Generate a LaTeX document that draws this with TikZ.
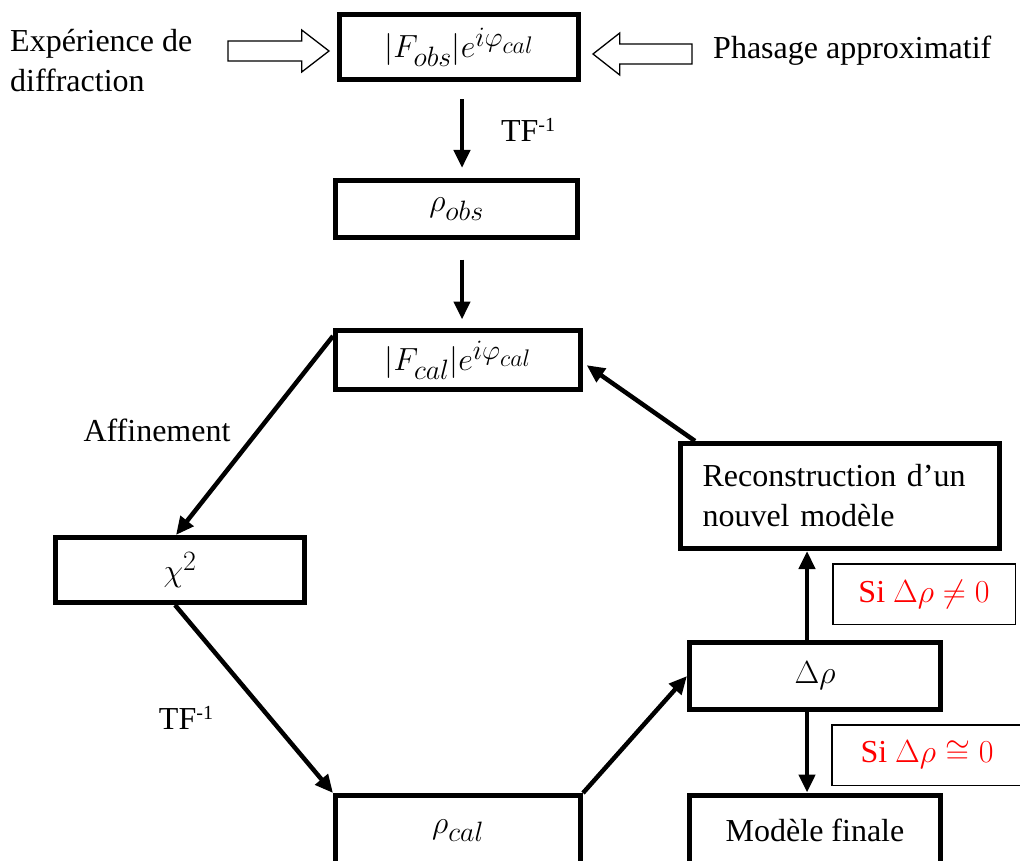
\RequirePackage{fix-cm}
\documentclass[tikz,border=0pt]{standalone}
\usepackage{fontspec}
\setmainfont{Liberation Serif}
\usepackage{amsmath}
\DeclareMathSizes{32}{32}{28}{24}
\usetikzlibrary{arrows.meta, calc}
\tikzset{
	bigbox/.style ={rectangle, draw=black, line width=5pt, fill=white, inner sep=0pt, align=center},
	condbox/.style={rectangle, draw=black, line width=1.5pt, fill=white, inner sep=0pt, text=red},
	lbl/.style    ={inner sep=0pt},
	flow/.style   ={-{Triangle[length=18pt, width=16pt]}, line width=4.5pt},
	hollow/.style ={draw=black, line width=1.3pt, fill=white, line join=miter},
}
% small raised exponent of TF
\newcommand{\inv}{\raisebox{10pt}{\fontsize{20}{20}\selectfont -1}}
% hollow input arrow: tail x, tip x, centre y
\newcommand{\fatArrow}[3]{%
	\draw[hollow] (#1,{#3-10}) -- ({#2+0.27*(#1-#2)},{#3-10}) -- ({#2+0.27*(#1-#2)},{#3-21})
		-- (#2,#3) -- ({#2+0.27*(#1-#2)},{#3+21}) -- ({#2+0.27*(#1-#2)},{#3+10}) -- (#1,{#3+10}) -- cycle;}

\begin{document}
\begin{tikzpicture}[x=1pt, y=-1pt, font=\fontsize{32}{40}\selectfont]
	\useasboundingbox (0,0) rectangle (1020,861);
	\coordinate (col) at (462,0);
	\coordinate (axis) at (807,0);
	% main boxes
	\node[bigbox, minimum width=239pt, minimum height=65pt] (fobs) at (459,47) {$|F_{obs}|e^{i\varphi_{cal}}$};
	\node[bigbox, minimum width=242pt, minimum height=57pt] (robs) at (456.5,209) {$\rho_{obs}$};
	\node[bigbox, minimum width=245pt, minimum height=59pt] (fcal) at (458,360) {$|F_{cal}|e^{i\varphi_{cal}}$};
	\node[bigbox, minimum width=249pt, minimum height=65pt] (chi) at (180,570) {$\chi^{2}$};
	\node[bigbox, minimum width=245pt, minimum height=70pt] (rcal) at (458,830.5) {$\rho_{cal}$};
	\node[bigbox, minimum width=251pt, minimum height=67pt] (drho) at (815,676) {$\Delta\rho$};
	\node[bigbox, text width=275pt, inner xsep=22pt, minimum height=105pt, align=left] (recon) at (840,496) {Reconstruction d’un\\nouvel modèle};
	\node[bigbox, minimum width=251pt, minimum height=70pt] (final) at (815,830) {Modèle finale};
	% conditions
	\node[condbox, minimum width=182.5pt, minimum height=60.5pt] (neq) at (924,594) {Si $\Delta\rho\neq0$};
	\node[condbox, minimum width=190pt, minimum height=60.5pt] (cong) at (927,755) {Si $\Delta\rho\cong0$};
	% side texts
	\node[lbl, anchor=west, align=left] (expe) at (10,61) {Expérience de\\diffraction};
	\node[lbl, anchor=west] (phase) at (713,51) {Phasage approximatif};
	\fatArrow{228}{329}{51}
	\fatArrow{692}{593}{54}
	% labels
	\node[lbl] (tfa) at (528,130) {TF\inv};
	\node[lbl] (affin) at (157,430) {Affinement};
	\node[lbl] (tfb) at (186,718) {TF\inv};
	% connectors
	\draw[flow, shorten <=17.5pt, shorten >=10pt] (fobs.south -| col) -- (robs.north -| col);
	\draw[flow, shorten <=19.5pt, shorten >=8.5pt] (robs.south -| col) -- (fcal.north -| col);
	\draw[flow] ($(fcal.north west)+(0,8)$) -- ($(chi.north)+(-4,0)$);
	\draw[flow] ($(chi.south)+(-5,0)$) -- (rcal.north west);
	\draw[flow] (rcal.north east) -- (drho.west);
	\draw[flow, shorten >=2pt] ($(recon.north west)+(17,0)$) -- ($(fcal.east)+(2,4)$);
	\draw[flow] (drho.north -| axis) -- (recon.south -| axis);
	\draw[flow] (drho.south -| axis) -- (final.north -| axis);
\end{tikzpicture}
\end{document}
